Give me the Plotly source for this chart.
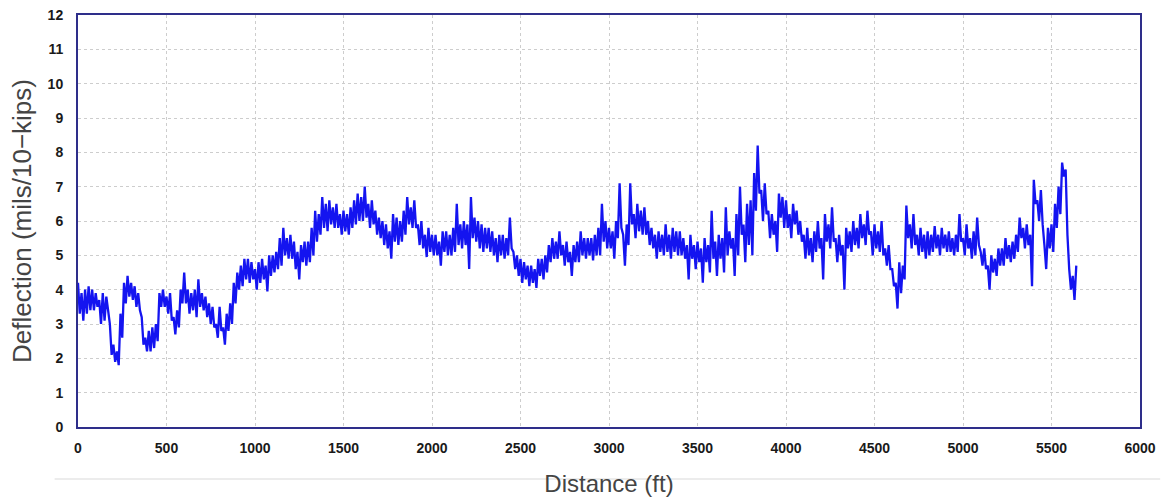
import plotly.graph_objects as go

# Deflection readings (mils/10-kips).
# The trace is very noisy: deflection_hi holds the upper readings at 0, 20, 40 ... ft,
# deflection_lo holds the lower readings at 10, 30, 50 ... ft.
deflection_hi = [
    4.2, 3.9, 4.0, 4.1, 4.0,
    3.9, 3.7, 3.9, 3.8, 3.0,
    2.4, 2.2, 3.3, 4.2, 4.4,
    4.2, 4.1, 3.9, 3.2, 2.6,
    2.8, 2.9, 3.0, 3.9, 4.0,
    3.8, 3.9, 3.2, 3.4, 4.0,
    4.5, 4.0, 3.9, 4.0, 4.3,
    3.9, 3.8, 3.6, 3.5, 3.0,
    3.5, 2.9, 3.3, 3.6, 4.2,
    4.5, 4.7, 4.9, 4.9, 4.8,
    4.6, 4.8, 4.9, 4.7, 5.0,
    5.0, 5.1, 5.5, 5.8, 5.5,
    5.6, 5.4, 5.1, 5.3, 5.4,
    5.4, 5.8, 6.3, 6.2, 6.7,
    6.5, 6.6, 6.4, 6.5, 6.2,
    6.3, 6.2, 6.4, 6.6, 6.8,
    6.7, 7.0, 6.5, 6.6, 6.3,
    6.1, 6.0, 5.9, 5.7, 6.2,
    6.1, 6.0, 6.3, 6.7, 6.4,
    6.6, 5.9, 6.0, 5.6, 5.8,
    5.6, 5.6, 5.4, 5.7, 5.7,
    5.6, 5.8, 6.5, 5.9, 6.0,
    5.9, 6.7, 6.1, 6.0, 5.9,
    5.8, 5.8, 5.7, 5.5, 5.6,
    5.6, 5.5, 6.1, 5.1, 5.0,
    4.9, 4.8, 4.7, 4.7, 4.6,
    4.9, 4.9, 5.0, 5.3, 5.5,
    5.4, 5.7, 5.3, 5.4, 5.1,
    5.3, 5.4, 5.7, 5.5, 5.5,
    5.5, 5.6, 5.8, 6.5, 6.0,
    5.8, 5.7, 6.0, 7.1, 5.6,
    5.9, 7.1, 6.2, 6.5, 6.3,
    6.4, 6.0, 5.8, 5.6, 5.7,
    5.6, 5.9, 5.6, 5.8, 5.7,
    5.7, 5.5, 5.3, 5.6, 5.3,
    5.4, 5.2, 5.5, 5.3, 6.3,
    5.4, 5.6, 5.5, 6.4, 5.7,
    5.5, 6.2, 7.0, 5.9, 6.5,
    6.6, 7.4, 8.2, 6.9, 7.1,
    6.3, 6.2, 6.0, 6.8, 6.7,
    6.6, 6.2, 6.5, 6.3, 6.0,
    5.6, 5.8, 5.5, 5.7, 6.0,
    5.5, 6.2, 5.9, 6.4, 5.5,
    5.6, 5.3, 5.8, 5.7, 6.0,
    5.8, 6.2, 5.9, 6.3, 5.7,
    5.9, 5.7, 6.0, 5.2, 5.3,
    4.6, 4.2, 4.8, 4.7, 6.45,
    5.9, 6.2, 5.6, 5.8, 5.6,
    5.7, 5.6, 5.85, 5.6, 5.8,
    5.6, 5.7, 5.5, 5.6, 6.2,
    5.5, 5.9, 5.5, 5.7, 6.1,
    5.1, 5.2, 4.7, 5.0, 4.9,
    5.2, 5.2, 5.5, 5.3, 5.4,
    5.6, 6.1, 5.8, 5.9, 5.6,
    7.2, 6.6, 6.9, 5.3, 5.8,
    5.9, 6.5, 7.0, 7.7, 7.5,
    4.6, 4.4, 4.7,
]
deflection_lo = [
    3.3, 3.1, 3.3, 3.4, 3.4,
    3.5, 3.0, 3.1, 3.4, 2.1,
    1.9, 1.8, 2.6, 3.6, 3.8,
    3.7, 3.5, 3.4, 2.4, 2.2,
    2.2, 2.3, 2.5, 3.5, 3.5,
    3.3, 3.1, 2.7, 2.9, 3.6,
    3.6, 3.3, 3.4, 3.2, 3.5,
    3.4, 3.2, 3.0, 2.9, 2.6,
    2.8, 2.4, 2.8, 3.0, 3.6,
    4.0, 4.1, 4.3, 4.2, 4.3,
    4.0, 4.2, 4.3, 3.95, 4.4,
    4.5, 4.6, 4.7, 5.0, 4.9,
    4.9, 4.6, 4.3, 4.8, 4.7,
    4.8, 5.0, 5.4, 5.6, 5.8,
    5.7, 5.9, 5.8, 5.8, 5.6,
    5.7, 5.6, 5.8, 5.9, 6.0,
    6.0, 6.1, 5.8, 5.9, 5.6,
    5.5, 5.3, 5.2, 4.9, 5.4,
    5.3, 5.4, 5.6, 5.9, 5.8,
    5.8, 5.3, 5.2, 4.95, 5.1,
    5.0, 5.0, 4.7, 5.1, 5.0,
    5.0, 5.1, 5.3, 5.2, 5.3,
    4.6, 5.5, 5.4, 5.2, 5.1,
    5.2, 5.1, 5.0, 4.8, 5.0,
    4.9, 5.0, 5.2, 4.6, 4.4,
    4.2, 4.3, 4.1, 4.2, 4.05,
    4.4, 4.3, 4.5, 4.8, 4.9,
    4.9, 5.0, 4.7, 4.8, 4.4,
    4.8, 4.8, 5.0, 4.9, 5.0,
    4.85, 5.0, 5.0, 5.4, 5.2,
    5.2, 4.9, 5.5, 5.8, 4.7,
    5.3, 5.9, 5.5, 5.7, 5.6,
    5.6, 5.3, 5.2, 4.9, 5.1,
    5.0, 5.1, 4.9, 5.1, 5.0,
    5.0, 4.9, 4.3, 4.9, 4.6,
    4.8, 4.2, 4.8, 4.5, 4.9,
    4.4, 4.9, 4.5, 5.0, 5.2,
    4.4, 5.0, 5.6, 4.8, 5.3,
    5.0, 6.3, 6.8, 6.0, 6.2,
    5.5, 5.6, 5.1, 6.1, 5.8,
    5.8, 5.5, 5.9, 5.6, 5.4,
    4.9, 5.0, 4.8, 5.1, 5.2,
    4.3, 5.4, 5.2, 5.4, 4.8,
    5.0, 4.0, 5.2, 5.1, 5.3,
    5.2, 5.5, 5.3, 5.6, 5.0,
    5.2, 5.1, 5.0, 4.7, 4.6,
    4.1, 3.45, 3.9, 4.3, 5.5,
    5.2, 5.3, 5.0, 5.1, 4.9,
    5.0, 5.1, 5.2, 5.0, 5.2,
    5.1, 5.1, 5.0, 5.1, 5.4,
    5.0, 5.2, 4.9, 5.0, 5.3,
    4.7, 4.6, 4.0, 4.5, 4.4,
    4.7, 4.7, 4.9, 4.8, 4.9,
    5.1, 5.5, 5.2, 5.3, 4.1,
    6.5, 6.0, 5.9, 4.6, 5.2,
    5.1, 5.8, 6.2, 7.3, 5.6,
    4.0, 3.7,
]
distance_hi = [20 * i for i in range(len(deflection_hi))]
distance_lo = [20 * i + 10 for i in range(len(deflection_lo))]

points = sorted(zip(distance_hi + distance_lo, deflection_hi + deflection_lo))
distance = [p[0] for p in points]
deflection = [p[1] for p in points]

x_ticks = [0, 500, 1000, 1500, 2000, 2500, 3000, 3500, 4000, 4500, 5000, 5500, 6000]
y_ticks = list(range(0, 13))

fig = go.Figure()
fig.add_trace(go.Scatter(
    x=distance, y=deflection, mode="lines",
    line=dict(color="#1414f0", width=2.3, simplify=False),
    showlegend=False, hoverinfo="skip",
))

axis_line = "#2e2e8a"
grid_col = "#cdcdcd"
tick_font = dict(family="Arial, Liberation Sans, sans-serif", size=14, color="#1a1a1a")

fig.update_layout(
    width=1169, height=500,
    margin=dict(l=78, r=29, t=7, b=72),
    paper_bgcolor="white", plot_bgcolor="white",
    font=dict(family="Arial, Liberation Sans, sans-serif"),
    shapes=[dict(type="line", xref="paper", yref="paper",
                 x0=-0.022, x1=1.019, y0=-0.126, y1=-0.126,
                 line=dict(color="#ececec", width=2), layer="below")],
)
fig.update_xaxes(
    range=[0, 6000], tickvals=x_ticks,
    ticktext=[f"<b>{v}</b>" for v in x_ticks],
    tickfont=tick_font, ticks="", ticklabelstandoff=7,
    showgrid=True, gridcolor=grid_col, griddash="dot", gridwidth=1,
    showline=True, linecolor=axis_line, linewidth=2, mirror=True,
    zeroline=False,
    title=dict(text="Distance (ft)", font=dict(size=24, color="#444444"), standoff=20),
)
fig.update_yaxes(
    range=[0, 12], tickvals=y_ticks,
    ticktext=[f"<b>{v}</b>" for v in y_ticks],
    tickfont=tick_font, ticks="", ticklabelstandoff=10,
    showgrid=True, gridcolor=grid_col, griddash="dot", gridwidth=1,
    showline=True, linecolor=axis_line, linewidth=2, mirror=True,
    zeroline=False,
    title=dict(text="Deflection (mils/10\u2212kips)", font=dict(size=26, color="#444444"), standoff=9),
)

fig.write_html("out.html")
